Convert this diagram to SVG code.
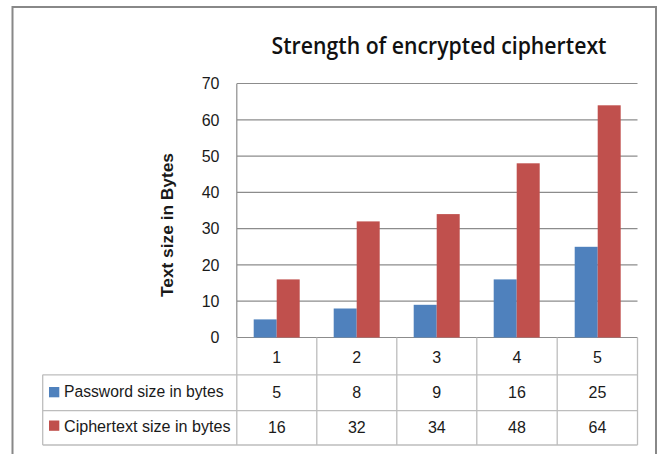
<svg xmlns="http://www.w3.org/2000/svg" width="659" height="454" viewBox="0 0 659 454">
<style>
.t{font-family:"Liberation Sans",Arial,sans-serif;font-size:16px;fill:#1a1a1a}
.m{text-anchor:middle}
.e{text-anchor:end}
.grid{stroke:#8c8c8c;stroke-width:1.2;fill:none}
.tab{stroke:#bdbdbd;stroke-width:1.3;fill:none}
.blue{fill:#4f81bd}
.red{fill:#c0504d}
</style>
<rect width="659" height="454" fill="#ffffff"/>
<rect x="12.5" y="7" width="643.5" height="460" fill="none" stroke="#888888" stroke-width="2"/>
<g id="title">
<text x="439" y="54.3" font-family="'Open Sans','Noto Sans',sans-serif" font-weight="600" font-size="23" fill="#111" text-anchor="middle" textLength="335" lengthAdjust="spacingAndGlyphs">Strength of encrypted ciphertext</text>
</g>
<g id="axis-title">
<text class="t m" transform="translate(172.5,225) rotate(-90)" font-weight="bold" font-size="15" textLength="144" lengthAdjust="spacingAndGlyphs">Text size in Bytes</text>
</g>
<g id="gridlines">
<line class="grid" x1="237" y1="83.5" x2="637.5" y2="83.5"/>
<line class="grid" x1="237" y1="119.8" x2="637.5" y2="119.8"/>
<line class="grid" x1="237" y1="156.1" x2="637.5" y2="156.1"/>
<line class="grid" x1="237" y1="192.4" x2="637.5" y2="192.4"/>
<line class="grid" x1="237" y1="228.6" x2="637.5" y2="228.6"/>
<line class="grid" x1="237" y1="264.9" x2="637.5" y2="264.9"/>
<line class="grid" x1="237" y1="301.2" x2="637.5" y2="301.2"/>
<line class="grid" x1="236.8" y1="337.5" x2="637.5" y2="337.5"/>
<line class="grid" x1="236.8" y1="83.5" x2="236.8" y2="337.5"/>
</g>
<g id="y-labels">
<text class="t e" x="219.5" y="89.3">70</text>
<text class="t e" x="219.5" y="125.6">60</text>
<text class="t e" x="219.5" y="161.9">50</text>
<text class="t e" x="219.5" y="198.2">40</text>
<text class="t e" x="219.5" y="234.4">30</text>
<text class="t e" x="219.5" y="270.7">20</text>
<text class="t e" x="219.5" y="307">10</text>
<text class="t e" x="219.5" y="343.3">0</text>
</g>
<g id="bars">
<rect class="blue" x="253.7" y="319.4" width="23" height="18.1"/>
<rect class="red" x="276.7" y="279.4" width="23" height="58.1"/>
<rect class="blue" x="333.7" y="308.5" width="23" height="29"/>
<rect class="red" x="356.7" y="221.4" width="23" height="116.1"/>
<rect class="blue" x="413.7" y="304.8" width="23" height="32.7"/>
<rect class="red" x="436.7" y="214.1" width="23" height="123.4"/>
<rect class="blue" x="493.7" y="279.4" width="23" height="58.1"/>
<rect class="red" x="516.7" y="163.3" width="23" height="174.2"/>
<rect class="blue" x="574.7" y="246.8" width="23" height="90.7"/>
<rect class="red" x="597.7" y="105.3" width="23" height="232.2"/>
</g>
<g id="table">
<line class="tab" x1="236.8" y1="337.5" x2="236.8" y2="445"/>
<line class="tab" x1="316.8" y1="337.5" x2="316.8" y2="445"/>
<line class="tab" x1="396.8" y1="337.5" x2="396.8" y2="445"/>
<line class="tab" x1="476.8" y1="337.5" x2="476.8" y2="445"/>
<line class="tab" x1="557.2" y1="337.5" x2="557.2" y2="445"/>
<line class="tab" x1="637.5" y1="337.5" x2="637.5" y2="445"/>
<line class="tab" x1="42.7" y1="374.8" x2="637.5" y2="374.8"/>
<line class="tab" x1="42.7" y1="410.6" x2="637.5" y2="410.6"/>
<line class="tab" x1="42.7" y1="445" x2="637.5" y2="445"/>
<line class="tab" x1="42.7" y1="374.8" x2="42.7" y2="445"/>
</g>
<g id="category-labels">
<text class="t m" x="276.8" y="363.3">1</text>
<text class="t m" x="356.8" y="363.3">2</text>
<text class="t m" x="436.8" y="363.3">3</text>
<text class="t m" x="517" y="363.3">4</text>
<text class="t m" x="597.4" y="363.3">5</text>
</g>
<g id="row-password">
<rect class="blue" x="49" y="387" width="10.3" height="10.3"/>
<text class="t" x="64" y="397" font-size="17" textLength="159.5" lengthAdjust="spacingAndGlyphs">Password size in bytes</text>
<text class="t m" x="276.8" y="398.3">5</text>
<text class="t m" x="356.8" y="398.3">8</text>
<text class="t m" x="436.8" y="398.3">9</text>
<text class="t m" x="517" y="398.3">16</text>
<text class="t m" x="597.4" y="398.3">25</text>
</g>
<g id="row-ciphertext">
<rect class="red" x="49" y="420.5" width="10.3" height="10.3"/>
<text class="t" x="64" y="431.7" font-size="17" textLength="166.5" lengthAdjust="spacingAndGlyphs">Ciphertext size in bytes</text>
<text class="t m" x="276.8" y="433.3">16</text>
<text class="t m" x="356.8" y="433.3">32</text>
<text class="t m" x="436.8" y="433.3">34</text>
<text class="t m" x="517" y="433.3">48</text>
<text class="t m" x="597.4" y="433.3">64</text>
</g>
</svg>
